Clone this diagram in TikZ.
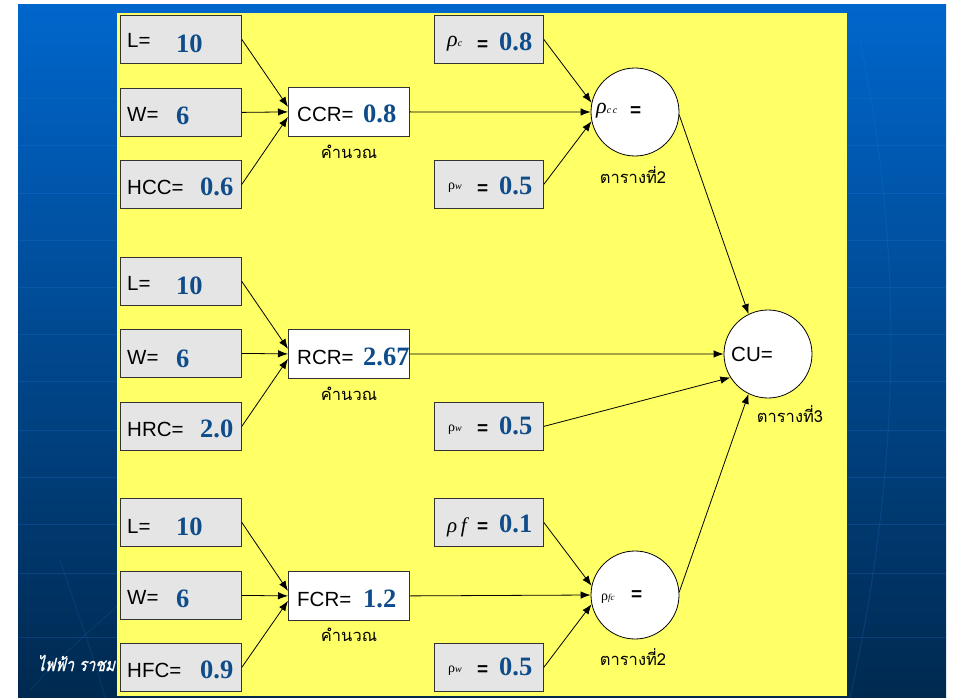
\documentclass[tikz,border=0pt]{standalone}
\usepackage{fontspec}
\setmainfont{Liberation Sans}
\newfontfamily\numfont{Liberation Serif}
\newfontfamily\thaifont[Script=Thai]{Loma}
\newfontfamily\thaiitfont[Script=Thai,FakeSlant=0.25,FakeBold=1,FakeStretch=0.82]{Loma}
\usetikzlibrary{arrows.meta,calc}

\definecolor{panel}{HTML}{FFFF66}
\definecolor{boxgray}{HTML}{E5E5E5}
\definecolor{numblue}{HTML}{0F4C8A}
\definecolor{bgtop}{HTML}{0066CC}
\definecolor{bgbot}{HTML}{00294F}
\definecolor{gridblue}{HTML}{2A7FE0}

\newcommand{\nm}[1]{{\numfont\bfseries\color{numblue}\fontsize{26.5}{26}\selectfont #1}}
\newcommand{\lb}[1]{{\fontsize{20.5}{20}\selectfont #1}}
\newcommand{\eqs}{{\bfseries\fontsize{19}{19}\selectfont =}}
\newcommand{\thai}[1]{{\thaifont\fontsize{16.5}{16}\selectfont #1}}

\begin{document}
\begin{tikzpicture}[x=1pt,y=-1pt,
  inbox/.style={draw=black!80,fill=boxgray,line width=0.8pt,inner sep=0pt,
    anchor=north west,minimum width=121pt,minimum height=48pt},
  calcbox/.style={draw=black!80,fill=white,line width=0.8pt,inner sep=0pt,
    anchor=north west,minimum width=121pt,minimum height=49pt},
  rhobox/.style={draw=black!80,fill=boxgray,line width=0.8pt,inner sep=0pt,
    anchor=north west,minimum width=109pt,minimum height=48pt},
  ball/.style={circle,draw=black,fill=white,line width=0.8pt,minimum size=88pt,inner sep=0pt},
  txt/.style={anchor=base west,inner sep=0pt},
  ctxt/.style={anchor=base,inner sep=0pt},
  arr/.style={draw=black,line width=0.8pt,-{Latex[length=10pt,width=7.5pt]}}]

% page and slide background
\useasboundingbox (0,0) rectangle (953,698);
\fill[white] (0,0) rectangle (953,698);
\shade[top color=bgtop,bottom color=bgbot] (18,5) rectangle (946,698);
\begin{scope}
  \clip (18,5) rectangle (946,698);
  \foreach \yy in {99,146,193,240,287,334,381,430,477,524,573,637}
    \draw[gridblue,opacity=0.22,line width=1pt] (18,\yy) -- (946,\yy);
  \draw[gridblue,opacity=0.18,line width=1pt] (860,40) .. controls (905,260) and (900,470) .. (850,698);
  \draw[gridblue,opacity=0.15,line width=1pt] (60,560) .. controls (80,620) and (95,660) .. (105,698);
  \draw[gridblue,opacity=0.15,line width=1pt] (30,690) .. controls (150,560) and (300,470) .. (420,430);
\end{scope}

% footer text at the slide's lower left
\node[txt,text=white] (footer) at (37,671) {\thaiitfont\fontsize{18}{18}\selectfont ไฟฟ้า ราชม};

% yellow panel
\fill[panel] (117,13) rectangle (847,696);

% ---------- ceiling block ----------
\node[inbox] (L1) at (120,15) {};
\node[inbox] (W1) at (120,88) {};
\node[inbox] (H1) at (120,160) {};
\node[txt] (L1a) at (127,48) {\lb{L=}};
\node[txt] (L1b) at (176,53) {\nm{10}};
\node[txt] (W1a) at (127,122) {\lb{W=}};
\node[txt] (W1b) at (176,125) {\nm{6}};
\node[txt] (H1a) at (127,194) {\lb{HCC=}};
\node[txt] (H1b) at (200,195) {\nm{0.6}};

\node[calcbox] (CCR) at (288,87) {};
\node[txt] (CCRa) at (297,122) {\lb{CCR=}};
\node[txt] (CCRb) at (363,123) {\nm{0.8}};
\node[ctxt] (CCRc) at (349,158) {\thai{คำนวณ}};

\node[rhobox] (pc) at (434,15) {};
\node[txt] (pca) at (447,47) {\numfont\itshape\fontsize{22}{22}\selectfont ρ\fontsize{10}{10}\selectfont c};
\node[txt] (pcb) at (477,51) {\eqs};
\node[txt] (pcc0) at (499,51) {\nm{0.8}};

\node[rhobox] (pw1) at (434,160) {};
\node[txt] (pw1a) at (448,189) {\numfont\fontsize{14}{14}\selectfont ρ{\itshape\fontsize{10}{10}\selectfont w}};
\node[txt] (pw1b) at (477,194) {\eqs};
\node[txt] (pw1c) at (499,194) {\nm{0.5}};

\node[ball] (pcc) at (635,112) {};
\node[txt] (pcca) at (596,114) {\numfont\itshape\fontsize{22}{22}\selectfont ρ\fontsize{10}{10}\selectfont c\,c};
\node[txt] (pccb) at (630,117) {\eqs};
\node[ctxt] (pccc) at (633,183) {\thai{ตารางที่2}};

% ---------- wall block ----------
\node[inbox] (L2) at (120,257) {};
\node[inbox] (W2) at (120,329) {};
\node[inbox] (H2) at (120,402) {};
\node[txt] (L2a) at (127,290) {\lb{L=}};
\node[txt] (L2b) at (176,294) {\nm{10}};
\node[txt] (W2a) at (127,364) {\lb{W=}};
\node[txt] (W2b) at (176,367) {\nm{6}};
\node[txt] (H2a) at (127,436) {\lb{HRC=}};
\node[txt] (H2b) at (200,437) {\nm{2.0}};

\node[calcbox] (RCR) at (288,329) {};
\node[txt] (RCRa) at (297,364) {\lb{RCR=}};
\node[txt] (RCRb) at (363,365) {\nm{2.67}};
\node[ctxt] (RCRc) at (349,400) {\thai{คำนวณ}};

\node[rhobox] (pw2) at (434,402) {};
\node[txt] (pw2a) at (448,431) {\numfont\fontsize{14}{14}\selectfont ρ{\itshape\fontsize{10}{10}\selectfont w}};
\node[txt] (pw2b) at (477,434) {\eqs};
\node[txt] (pw2c) at (499,434) {\nm{0.5}};

\node[ball] (CU) at (768,354) {};
\node[txt] (CUa) at (731,361) {\lb{CU=}};
\node[ctxt] (CUc) at (790,422) {\thai{ตารางที่3}};

% ---------- floor block ----------
\node[inbox] (L3) at (120,498) {};
\node[inbox] (W3) at (120,571) {};
\node[inbox] (H3) at (120,643) {};
\node[txt] (L3a) at (127,533) {\lb{L=}};
\node[txt] (L3b) at (176,535) {\nm{10}};
\node[txt] (W3a) at (127,604) {\lb{W=}};
\node[txt] (W3b) at (176,607) {\nm{6}};
\node[txt] (H3a) at (127,677) {\lb{HFC=}};
\node[txt] (H3b) at (200,678) {\nm{0.9}};

\node[calcbox] (FCR) at (288,571) {};
\node[txt] (FCRa) at (297,606) {\lb{FCR=}};
\node[txt] (FCRb) at (363,607) {\nm{1.2}};
\node[ctxt] (FCRc) at (349,641) {\thai{คำนวณ}};

\node[rhobox] (pf) at (434,498) {};
\node[txt] (pfa) at (447,532) {\numfont\itshape\fontsize{21}{21}\selectfont ρ\,f};
\node[txt] (pfb) at (477,532) {\eqs};
\node[txt] (pfc0) at (499,532) {\nm{0.1}};

\node[rhobox] (pw3) at (434,643) {};
\node[txt] (pw3a) at (448,672) {\numfont\fontsize{14}{14}\selectfont ρ{\itshape\fontsize{10}{10}\selectfont w}};
\node[txt] (pw3b) at (477,675) {\eqs};
\node[txt] (pw3c) at (499,675) {\nm{0.5}};

\node[ball] (pfc) at (635,595) {};
\node[txt] (pfca) at (601,600) {\numfont\fontsize{14}{14}\selectfont ρ{\itshape\fontsize{9}{9}\selectfont fc}};
\node[txt] (pfcb) at (631,600) {\eqs};
\node[ctxt] (pfcc) at (633,665) {\thai{ตารางที่2}};

% ---------- connectors ----------
\draw[arr] (L1.east) -- ([yshift=5pt]CCR.west);
\draw[arr] (W1.east) -- (CCR.west);
\draw[arr] (H1.east) -- ([yshift=-5pt]CCR.west);
\draw[arr] (pc.east) -- (pcc.168);
\draw[arr] (CCR.east) -- (pcc.west);
\draw[arr] (pw1.east) -- (pcc.192);

\draw[arr] (L2.east) -- ([yshift=5pt]RCR.west);
\draw[arr] (W2.east) -- (RCR.west);
\draw[arr] (H2.east) -- ([yshift=-5pt]RCR.west);

\draw[arr] (L3.east) -- ([yshift=5pt]FCR.west);
\draw[arr] (W3.east) -- (FCR.west);
\draw[arr] (H3.east) -- ([yshift=-5pt]FCR.west);
\draw[arr] (pf.east) -- (pfc.168);
\draw[arr] (FCR.east) -- (pfc.west);
\draw[arr] (pw3.east) -- (pfc.192);

\draw[arr] (pcc.-4) -- (CU.116);
\draw[arr] (RCR.east) -- (CU.west);
\draw[arr] (pw2.east) -- (CU.212);
\draw[arr] (pfc.4) -- (CU.244);
\end{tikzpicture}
\end{document}
